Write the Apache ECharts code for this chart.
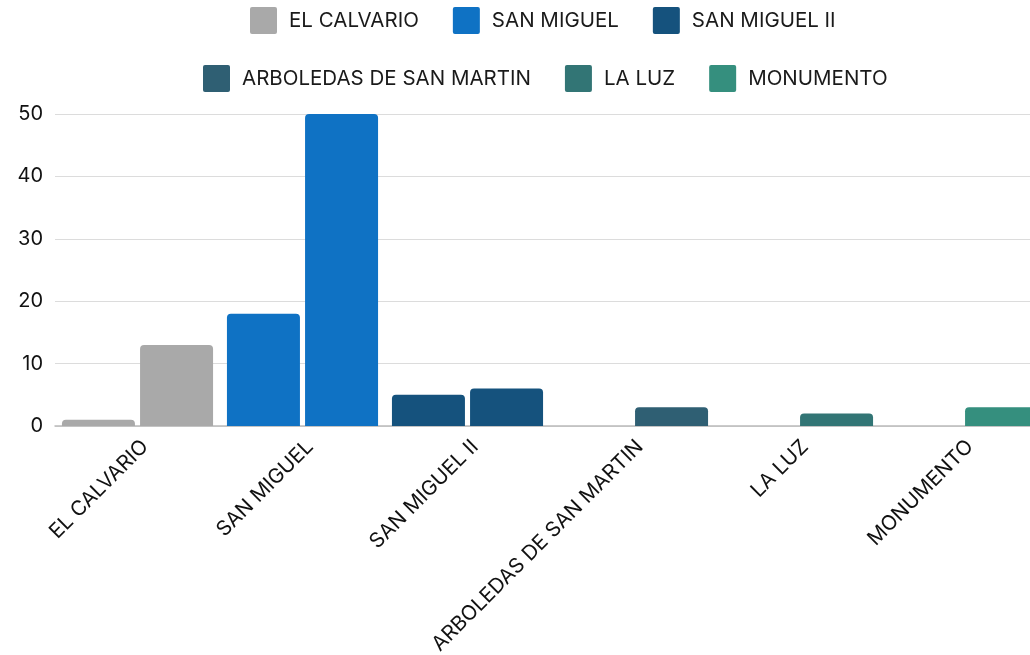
<!DOCTYPE html>
<html lang="es">
<head>
    <meta charset="UTF-8">
    <title>Barrios</title>
    <script src="https://cdn.jsdelivr.net/npm/echarts@6/dist/echarts.min.js"></script>
    <style>
        * { margin: 0; padding: 0; }
        body { background: #fff; }
        #chart { width: 1030px; height: 655px; }
    </style>
</head>
<body>
    <div id="chart"></div>
    <script>
        // datos
        const barrios = ['EL CALVARIO', 'SAN MIGUEL', 'SAN MIGUEL II', 'ARBOLEDAS DE SAN MARTIN', 'LA LUZ', 'MONUMENTO'];
        const serieA = [1, 18, 5, 0, 0, 0];
        const serieB = [13, 50, 6, 3, 2, 3];
        const colores = ['#a9a9a9', '#0f72c4', '#15527d', '#2f5f73', '#327575', '#358f7e'];
        const yTicks = [0, 10, 20, 30, 40, 50];

        const fuente = 'Inter, Roboto, sans-serif';

        const conColor = arr => arr.map((v, i) => ({
            value: v,
            itemStyle: { color: colores[i] }
        }));

        // series vacias solo para la leyenda
        const leyendaSeries = barrios.map((b, i) => ({
            name: b,
            type: 'line',
            data: [],
            itemStyle: { color: colores[i] },
            lineStyle: { color: colores[i] }
        }));

        const legendBase = {
            icon: 'path://M2,0 L25,0 Q27,0 27,2 L27,25 Q27,27 25,27 L2,27 Q0,27 0,25 L0,2 Q0,0 2,0 Z',
            itemWidth: 27,
            itemHeight: 27,
            itemGap: 34,
            textStyle: { fontFamily: fuente, fontSize: 20.5, color: '#1a1a1a', padding: [0, 0, 0, 7] }
        };

        const chart = echarts.init(document.getElementById('chart'));
        chart.setOption({
            animation: false,
            legend: [
                Object.assign({}, legendBase, { data: barrios.slice(0, 3), top: 2, left: 245 }),
                Object.assign({}, legendBase, { data: barrios.slice(3), top: 60, left: 198 })
            ],
            grid: { left: 55, width: 990, top: 114, bottom: 229, containLabel: false, outerBoundsMode: 'none' },
            xAxis: {
                type: 'category',
                data: barrios,
                axisTick: { show: false },
                axisLine: { lineStyle: { color: '#bbb', width: 1.5 } },
                axisLabel: {
                    rotate: 45,
                    interval: 0,
                    margin: 10,
                    verticalAlign: 'top',
                    fontFamily: fuente,
                    fontSize: 20.5,
                    color: '#111'
                }
            },
            yAxis: {
                type: 'value',
                min: yTicks[0],
                max: yTicks[yTicks.length - 1],
                interval: 10,
                axisLabel: { fontFamily: fuente, fontSize: 20, color: '#111', margin: 12 },
                splitLine: { lineStyle: { color: '#dcdcdc', width: 1.2 } }
            },
            series: [
                {
                    name: 'A',
                    type: 'bar',
                    data: conColor(serieA),
                    barWidth: 73,
                    barGap: '7%',
                    itemStyle: { borderRadius: [4, 4, 0, 0] }
                },
                {
                    name: 'B',
                    type: 'bar',
                    data: conColor(serieB),
                    barWidth: 73,
                    barGap: '7%',
                    itemStyle: { borderRadius: [4, 4, 0, 0] }
                }
            ].concat(leyendaSeries)
        });
    </script>
</body>
</html>
